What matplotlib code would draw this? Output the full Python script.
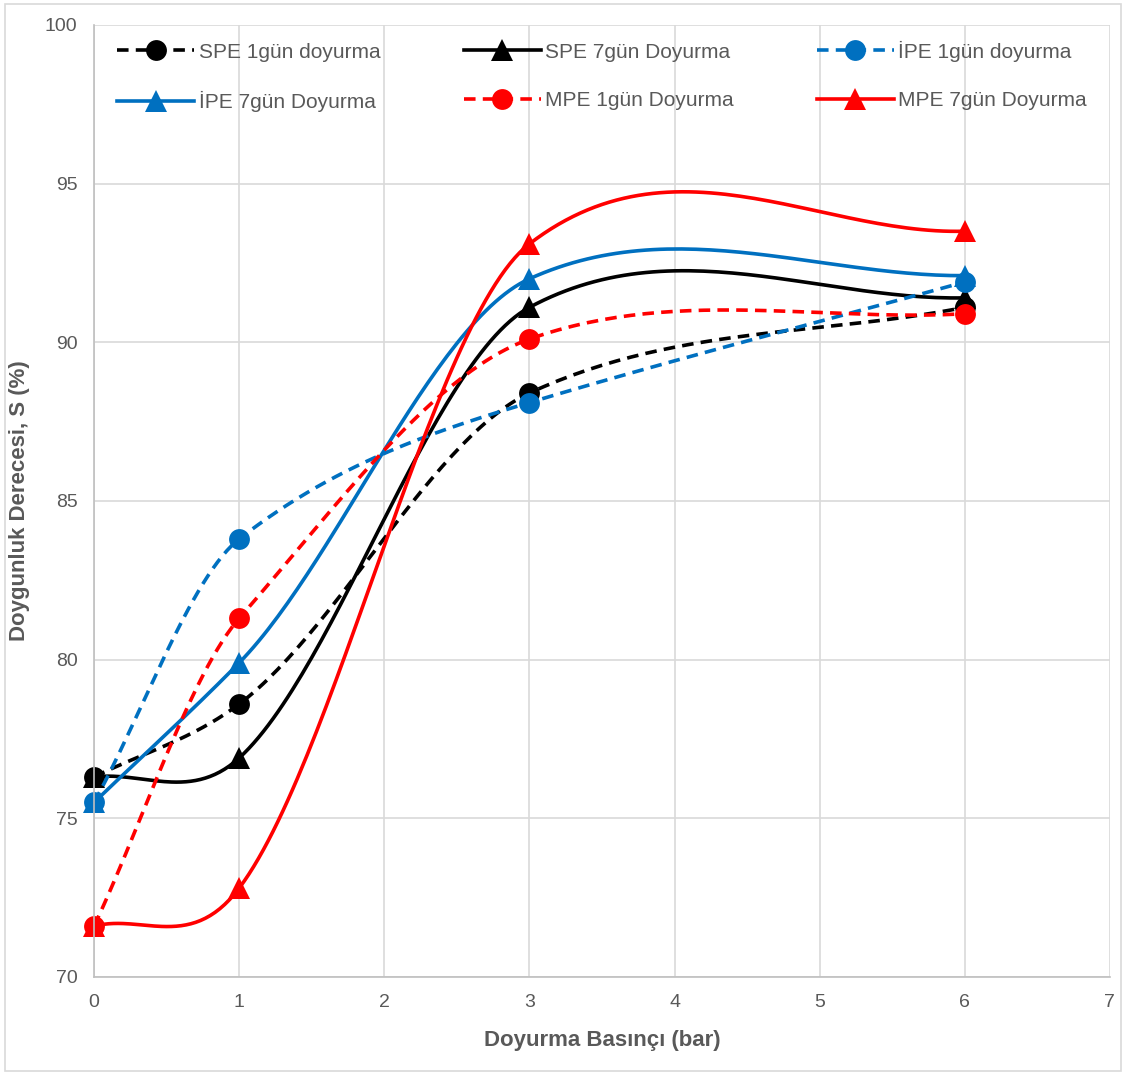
import numpy as np
import matplotlib.pyplot as plt
from matplotlib.patches import Rectangle

plt.rcParams['font.family'] = ['Liberation Sans', 'DejaVu Sans']

basinc = [0, 1, 3, 6]

spe_1gun = [76.3, 78.6, 88.4, 91.1]
spe_7gun = [76.3, 76.9, 91.1, 91.4]
ipe_1gun = [75.5, 83.8, 88.1, 91.9]
ipe_7gun = [75.5, 79.9, 92.0, 92.1]
mpe_1gun = [71.6, 81.3, 90.1, 90.9]
mpe_7gun = [71.6, 72.8, 93.1, 93.5]

labels = ["SPE 1gün doyurma", "SPE 7gün Doyurma", "İPE 1gün doyurma",
          "İPE 7gün Doyurma", "MPE 1gün Doyurma", "MPE 7gün Doyurma"]

BLACK = "#000000"
BLUE = "#0070C0"
RED = "#FF0000"
GRAY = "#595959"


def smooth(x, y, n=60, k=0.85):
    # bezier spline through the points, slopes from neighbour differences
    x = np.asarray(x, float)
    y = np.asarray(y, float)
    m = np.zeros(len(x))
    m[0] = (y[1] - y[0]) / (x[1] - x[0])
    m[-1] = (y[-1] - y[-2]) / (x[-1] - x[-2])
    for i in range(1, len(x) - 1):
        m[i] = k * (y[i + 1] - y[i - 1]) / (x[i + 1] - x[i - 1])
    xs, ys, idx = [], [], []
    t = np.linspace(0, 1, n, endpoint=False)
    for i in range(len(x) - 1):
        h = x[i + 1] - x[i]
        p0 = np.array([x[i], y[i]])
        p3 = np.array([x[i + 1], y[i + 1]])
        p1 = p0 + np.array([h / 3, m[i] * h / 3])
        p2 = p3 - np.array([h / 3, m[i + 1] * h / 3])
        b = ((1 - t) ** 3)[:, None] * p0 + (3 * (1 - t) ** 2 * t)[:, None] * p1 \
            + (3 * (1 - t) * t ** 2)[:, None] * p2 + (t ** 3)[:, None] * p3
        idx.append(len(xs))
        xs.extend(b[:, 0])
        ys.extend(b[:, 1])
    idx.append(len(xs))
    xs.append(x[-1])
    ys.append(y[-1])
    return np.array(xs), np.array(ys), idx


fig = plt.figure(figsize=(11.25, 10.75), dpi=100)
ax = fig.add_axes([0.0836, 0.0912, 0.903, 0.8856])
fig.patches.append(Rectangle((0.004, 0.004), 0.992, 0.992, transform=fig.transFigure,
                             fill=False, edgecolor="#d9d9d9", linewidth=1.2))

series = [
    (spe_1gun, BLACK, (0, (3.2, 2)), "o"),
    (spe_7gun, BLACK, "-", "^"),
    (ipe_1gun, BLUE, (0, (3.2, 2)), "o"),
    (ipe_7gun, BLUE, "-", "^"),
    (mpe_1gun, RED, (0, (3.2, 2)), "o"),
    (mpe_7gun, RED, "-", "^"),
]

handles = []
for (vals, col, ls, mk), lab in zip(series, labels):
    xs, ys, idx = smooth(basinc, vals)
    ms = 15 if mk == "o" else 16
    h, = ax.plot(xs, ys, color=col, linestyle=ls, linewidth=2.6, marker=mk,
                 markevery=idx, markersize=ms, markeredgewidth=0, label=lab,
                 clip_on=False)
    handles.append(h)

ax.set_xlim(0, 7)
ax.set_ylim(70, 100)
ax.set_xticks(range(0, 8))
ax.set_yticks(range(70, 101, 5))
ax.grid(True, color="#d9d9d9", linewidth=1.2)
ax.set_axisbelow(True)
for s in ["top", "right"]:
    ax.spines[s].set_visible(False)
for s in ["left", "bottom"]:
    ax.spines[s].set_color("#bfbfbf")
    ax.spines[s].set_linewidth(1.2)
ax.tick_params(length=0, labelsize=14, colors=GRAY, pad=12)

ax.set_xlabel("Doyurma Basınçı (bar)", fontsize=16, fontweight="bold", color=GRAY, labelpad=14)
ax.set_ylabel("Doygunluk Derecesi, S (%)", fontsize=16, fontweight="bold", color=GRAY)
ax.yaxis.set_label_coords(-0.063, 0.5)

order = [0, 3, 1, 4, 2, 5]
leg = ax.legend([handles[i] for i in order], [labels[i] for i in order],
                ncol=3, loc="upper center", bbox_to_anchor=(0.5, 1.0),
                frameon=False, fontsize=15, handlelength=3.7, handletextpad=0.2,
                columnspacing=4.0, labelspacing=1.4, markerscale=1.0, borderaxespad=0.35)
for txt in leg.get_texts():
    txt.set_color(GRAY)

fig.savefig("out.png", dpi=100)
